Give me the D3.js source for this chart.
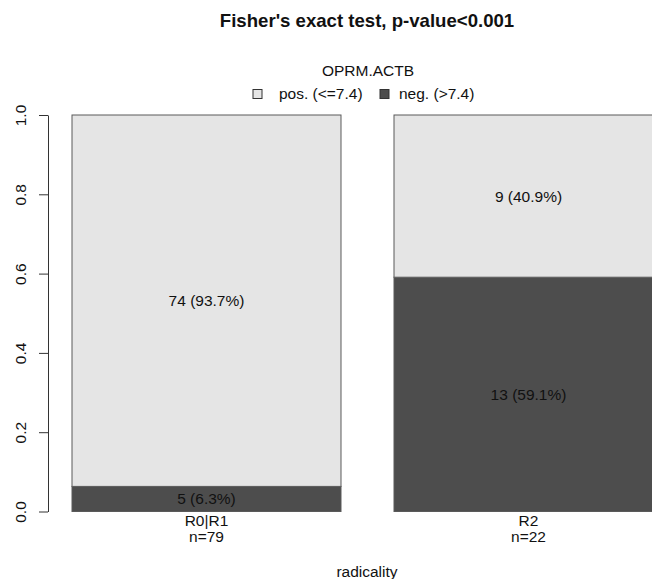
<!DOCTYPE html>
<html>
<head>
<meta charset="utf-8">
<script src="https://cdn.jsdelivr.net/npm/d3@7"></script>
<style>
  html, body { margin: 0; padding: 0; background: #fff; }
  svg { display: block; font-family: "Liberation Sans", Arial, Helvetica, sans-serif; }
</style>
</head>
<body>
<svg id="chart" width="652" height="579"></svg>
<script>
// Contingency table: radicality groups vs OPRM.ACTB status
const groups = ["R0|R1", "R2"];
const statusLevels = ["pos. (<=7.4)", "neg. (>7.4)"];
const posCounts = [74, 9];
const negCounts = [5, 13];
const yTicks = [0, 0.2, 0.4, 0.6, 0.8, 1.0];

const titleText = "Fisher's exact test, p-value<0.001";
const legendTitle = "OPRM.ACTB";
const xTitle = "radicality";

const fills = { pos: "#e5e5e5", neg: "#4d4d4d" };
const fs = 15.5;

const svg = d3.select("#chart");

const x = d3.scaleBand().domain(groups).range([72, 663]).paddingInner(0.1646).paddingOuter(0);
const y = d3.scaleLinear().domain([0, 1]).range([511.5, 115]);

// stacked proportions: neg at bottom, pos on top
const rows = groups.map((g, i) => {
  const n = posCounts[i] + negCounts[i];
  return { g, n, pos: posCounts[i], neg: negCounts[i], pPos: posCounts[i] / n, pNeg: negCounts[i] / n };
});

const segs = [];
rows.forEach(r => {
  segs.push({ g: r.g, y0: 0, y1: r.pNeg, count: r.neg, p: r.pNeg, fill: fills.neg });
  segs.push({ g: r.g, y0: r.pNeg, y1: 1, count: r.pos, p: r.pPos, fill: fills.pos });
});

svg.append("g").selectAll("rect").data(segs).join("rect")
  .attr("x", d => x(d.g))
  .attr("width", x.bandwidth())
  .attr("y", d => y(d.y1))
  .attr("height", d => y(d.y0) - y(d.y1))
  .attr("fill", d => d.fill)
  .attr("stroke", "#5a5a5a")
  .attr("stroke-width", 1);

svg.append("g").selectAll("text").data(segs).join("text")
  .attr("x", d => x(d.g) + x.bandwidth() / 2)
  .attr("y", d => (y(d.y0) + y(d.y1)) / 2)
  .attr("dy", "0.35em")
  .attr("text-anchor", "middle")
  .attr("font-size", fs)
  .attr("fill", "#111")
  .text(d => `${d.count} (${(d.p * 100).toFixed(1)}%)`);

// y axis, R style: outward ticks with rotated labels
const yAxis = svg.append("g").attr("transform", "translate(48,0)")
  .call(d3.axisLeft(y).tickValues(yTicks).tickFormat(d3.format(".1f")).tickSize(9).tickSizeOuter(0));
yAxis.select(".domain").attr("stroke", "#333");
yAxis.selectAll(".tick line").attr("stroke", "#333");
yAxis.selectAll(".tick text")
  .attr("font-size", fs)
  .attr("fill", "#111")
  .attr("font-family", "Liberation Sans, Arial, sans-serif")
  .attr("x", null).attr("dy", null)
  .attr("text-anchor", "middle")
  .attr("transform", "translate(-22.5,0) rotate(-90)");

// group labels below bars
const xl = svg.append("g").selectAll("g").data(rows).join("g")
  .attr("transform", d => `translate(${x(d.g) + x.bandwidth() / 2},0)`);
xl.append("text").attr("y", 526).attr("text-anchor", "middle").attr("font-size", fs).attr("fill", "#111").text(d => d.g);
xl.append("text").attr("y", 542).attr("text-anchor", "middle").attr("font-size", fs).attr("fill", "#111").text(d => `n=${d.n}`);

svg.append("text").attr("x", 367).attr("y", 576.5).attr("text-anchor", "middle")
  .attr("font-size", fs).attr("fill", "#111").text(xTitle);

// title
svg.append("text").attr("x", 367).attr("y", 27).attr("text-anchor", "middle")
  .attr("font-size", 18.6).attr("font-weight", "bold").attr("fill", "#111").text(titleText);

// legend
svg.append("text").attr("x", 368).attr("y", 76).attr("text-anchor", "middle")
  .attr("font-size", fs).attr("fill", "#111").text(legendTitle);

const legendItems = [
  { label: statusLevels[0], fill: fills.pos, bx: 253, tx: 279 },
  { label: statusLevels[1], fill: fills.neg, bx: 380, tx: 399 }
];
const lg = svg.append("g").selectAll("g").data(legendItems).join("g");
lg.append("rect").attr("x", d => d.bx).attr("y", 89.5).attr("width", 9).attr("height", 9)
  .attr("fill", d => d.fill).attr("stroke", "#333").attr("stroke-width", 1);
lg.append("text").attr("x", d => d.tx).attr("y", 98.5).attr("font-size", fs).attr("fill", "#111").text(d => d.label);
</script>
</body>
</html>
